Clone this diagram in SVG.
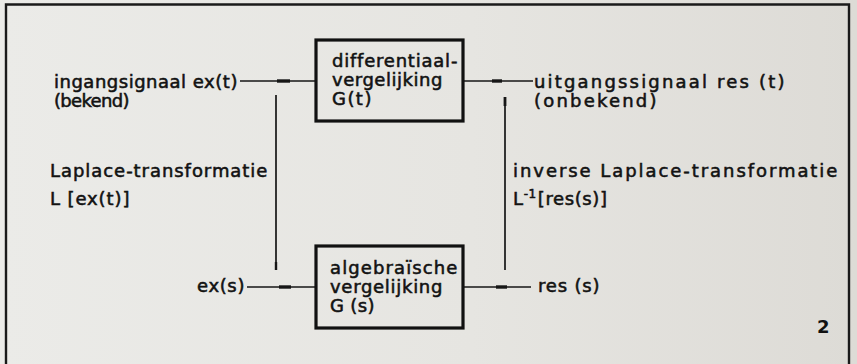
<svg xmlns="http://www.w3.org/2000/svg" width="857" height="364" viewBox="0 0 857 364">
  <style>
    .t { font-family: "DejaVu Sans", "Liberation Sans", sans-serif; font-size: 18px; fill: #121212; stroke: #121212; stroke-width: 0.55; letter-spacing: 0.6px; }
    .box { fill: none; stroke: #111; stroke-width: 3.2; }
    .wire { fill: none; stroke: #161616; stroke-width: 1.7; }
    .joint { fill: none; stroke: #161616; stroke-width: 3.4; }
    .frame { fill: none; stroke: #1a1a1a; stroke-width: 2.4; }
    .num { font-family: "DejaVu Sans", "Liberation Sans", sans-serif; font-size: 18px; font-weight: bold; fill: #111; }
  </style>
  <defs>
    <linearGradient id="paper" x1="0" y1="0" x2="1" y2="0">
      <stop offset="0" stop-color="#ebebe8"/>
      <stop offset="0.55" stop-color="#e6e5e1"/>
      <stop offset="1" stop-color="#dddbd6"/>
    </linearGradient>
  </defs>

  <!-- paper and outer frame -->
  <rect x="0" y="0" width="857" height="364" fill="url(#paper)"/>
  <path class="frame" d="M6 370 V4.5 H849 V370"/>

  <!-- connectors -->
  <g id="connectors">
    <!-- time domain: input to differential equation -->
    <path class="wire" d="M240 81 H316"/>
    <path class="joint" d="M277 81 H290"/>
    <!-- differential equation to output -->
    <path class="wire" d="M463 81 H533"/>
    <path class="joint" d="M492 81 H502"/>
    <!-- Laplace transform down -->
    <path class="wire" d="M276 95 V270"/>
    <path class="joint" d="M276 262 V270" style="stroke-width:2.4"/>
    <!-- inverse transform up -->
    <path class="wire" d="M505 97 V270"/>
    <path class="joint" d="M505 97 V106" style="stroke-width:2.8"/>
    <!-- s domain: ex(s) to algebraic equation -->
    <path class="wire" d="M247 287 H316"/>
    <path class="joint" d="M279 287 H291"/>
    <!-- algebraic equation to res(s) -->
    <path class="wire" d="M463 287 H531"/>
    <path class="joint" d="M496 287 H507"/>
  </g>

  <!-- differential equation block -->
  <g id="node-differentiaal">
    <rect class="box" x="316" y="40" width="147" height="81"/>
    <text class="t" x="332" y="67" textLength="126" lengthAdjust="spacing">differentiaal-</text>
    <text class="t" x="332" y="86" textLength="111" lengthAdjust="spacing">vergelijking</text>
    <text class="t" x="332" y="105" textLength="40" lengthAdjust="spacing">G(t)</text>
  </g>

  <!-- algebraic equation block -->
  <g id="node-algebraisch">
    <rect class="box" x="316" y="246" width="147" height="82"/>
    <text class="t" x="330" y="274" textLength="128" lengthAdjust="spacing">algebraïsche</text>
    <text class="t" x="330" y="293" textLength="113" lengthAdjust="spacing">vergelijking</text>
    <text class="t" x="330" y="312" textLength="45" lengthAdjust="spacing">G (s)</text>
  </g>

  <!-- input signal -->
  <g id="node-ingang">
    <text class="t" x="54" y="88" textLength="184" lengthAdjust="spacing">ingangsignaal ex(t)</text>
    <text class="t" x="54" y="107" textLength="76" lengthAdjust="spacing">(bekend)</text>
  </g>

  <!-- output signal -->
  <g id="node-uitgang">
    <text class="t" x="534" y="88" textLength="251" lengthAdjust="spacing">uitgangssignaal res (t)</text>
    <text class="t" x="534" y="107" textLength="123" lengthAdjust="spacing">(onbekend)</text>
  </g>

  <!-- forward transform label -->
  <g id="node-laplace">
    <text class="t" x="50" y="177" textLength="218" lengthAdjust="spacing">Laplace-transformatie</text>
    <text class="t" x="50" y="205" textLength="80" lengthAdjust="spacing">L [ex(t)]</text>
  </g>

  <!-- inverse transform label -->
  <g id="node-invers">
    <text class="t" x="513" y="177" textLength="325" lengthAdjust="spacing">inverse Laplace-transformatie</text>
    <text class="t" x="513" y="205">L<tspan font-size="12" dy="-7">-1</tspan><tspan dy="7" dx="1">[res(s)]</tspan></text>
  </g>

  <!-- s-domain signals -->
  <g id="node-ex-s">
    <text class="t" x="197" y="292" textLength="48" lengthAdjust="spacing">ex(s)</text>
  </g>
  <g id="node-res-s">
    <text class="t" x="538" y="292" textLength="62" lengthAdjust="spacing">res (s)</text>
  </g>

  <!-- figure number -->
  <text class="num" x="817" y="333">2</text>
</svg>
